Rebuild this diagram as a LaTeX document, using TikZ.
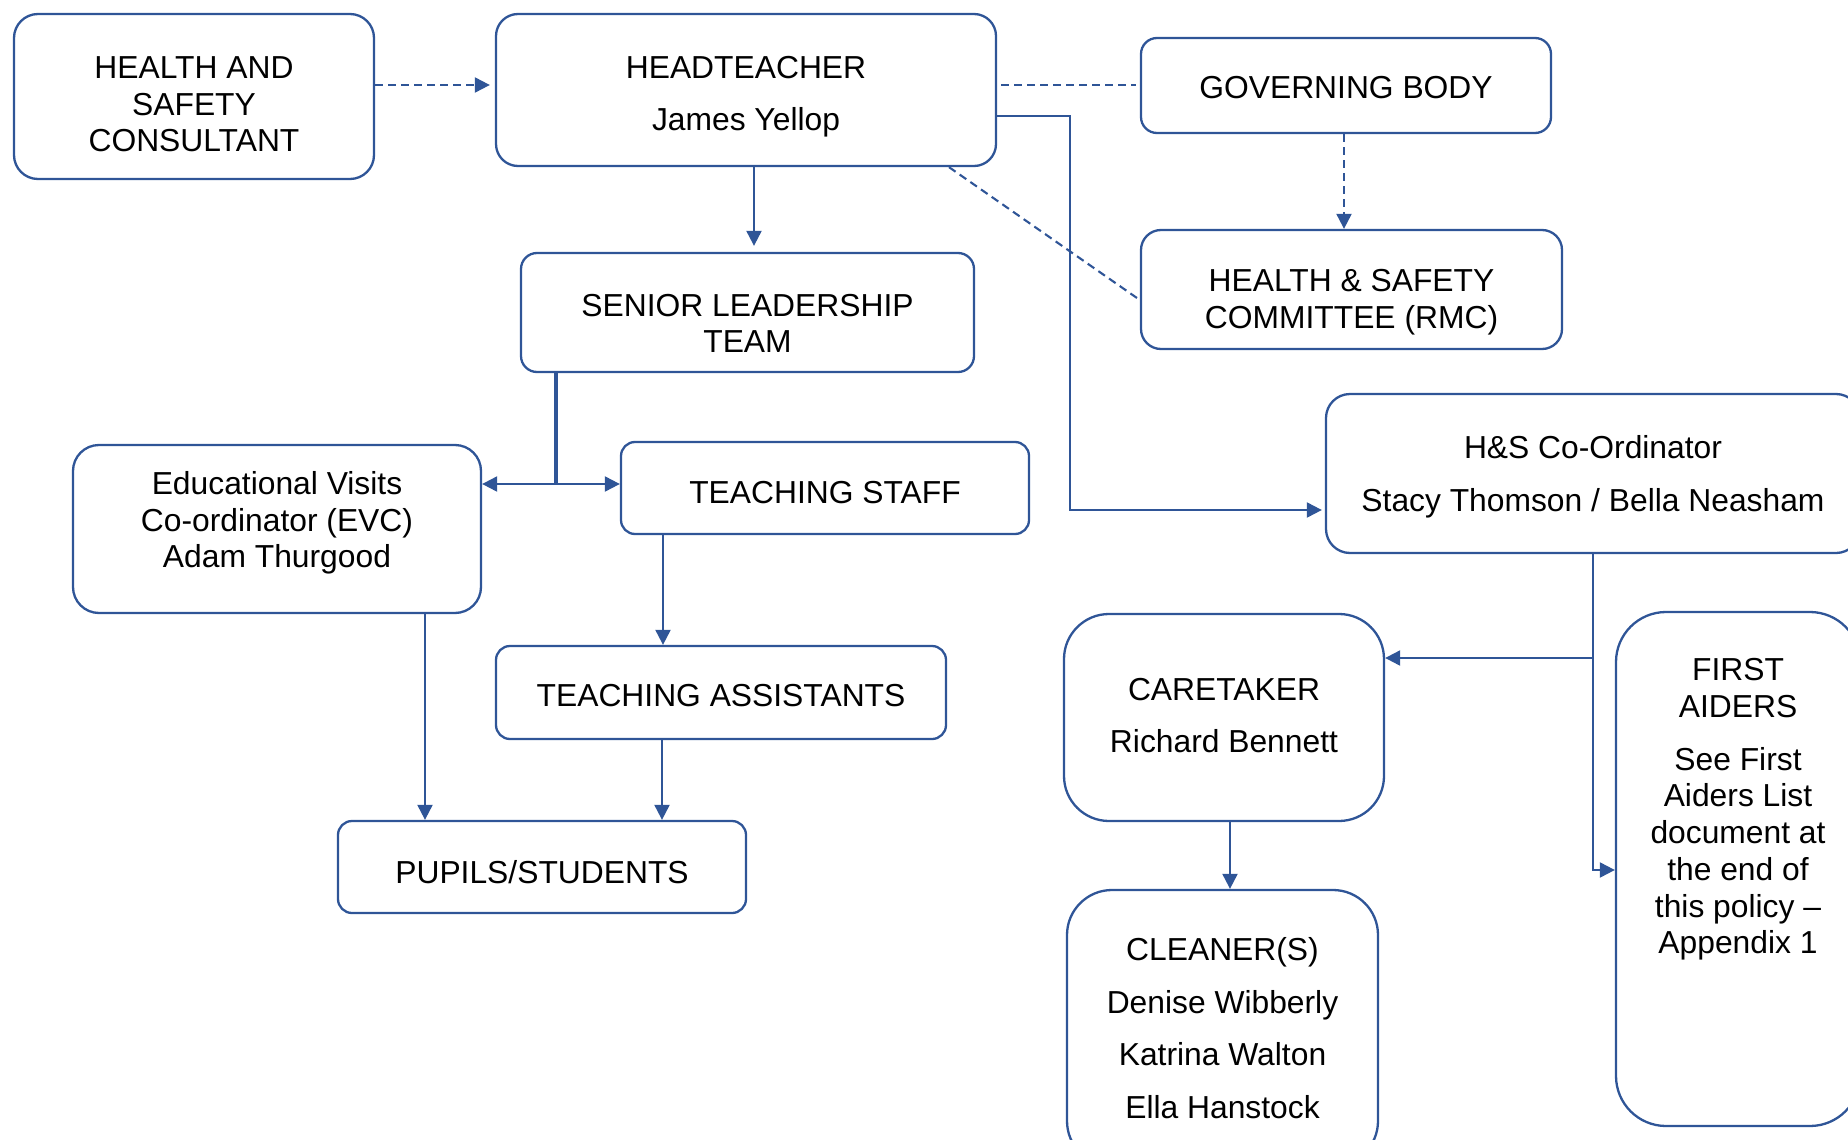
\documentclass[tikz,border=0pt]{standalone}
\usepackage{fontspec}
\setmainfont{Liberation Sans}
\usetikzlibrary{arrows.meta,calc}
\definecolor{lc}{RGB}{47,85,151}
\begin{document}
\begin{tikzpicture}[x=1pt,y=-1pt,
  box/.style={draw=lc, line width=2.3pt, rounded corners=#1, inner sep=0pt},
  box/.default=16pt,
  txt/.style={align=center, inner sep=0pt, font=\fontsize{31.8}{36.7}\selectfont, text=black},
  conn/.style={draw=lc, line width=2.1pt},
  arr/.style={conn, -{Triangle[length=15pt,width=15pt]}},
  dashconn/.style={conn, dash pattern=on 8pt off 5pt},
  dasharr/.style={dashconn, -{Triangle[length=15pt,width=15pt]}}]
\useasboundingbox (0,0) rectangle (1848,1140);
\clip (0,0) rectangle (1848,1140);

% boxes
\node[box=24pt, minimum width=360pt, minimum height=165pt] (hsc) at (194,96.5) {};
\node[box=22pt, minimum width=500pt, minimum height=152pt] (head) at (746,90) {};
\node[box=16pt, minimum width=410pt, minimum height=95pt] (gov) at (1346,85.5) {};
\node[box=20pt, minimum width=421pt, minimum height=119pt] (hscomm) at (1351.5,289.5) {};
\node[box=16pt, minimum width=453pt, minimum height=119pt] (slt) at (747.5,312.5) {};
\node[box=26pt, minimum width=408pt, minimum height=168pt] (evc) at (277,529) {};
\node[box=14pt, minimum width=408pt, minimum height=92pt] (ts) at (825,488) {};
\node[box=24pt, minimum width=534pt, minimum height=159pt] (hscoord) at (1593,473.5) {};
\node[box=14pt, minimum width=450pt, minimum height=93pt] (ta) at (721,692.5) {};
\node[box=14pt, minimum width=408pt, minimum height=92pt] (pupils) at (542,867) {};
\node[box=45pt, minimum width=320pt, minimum height=207pt] (caretaker) at (1224,717.5) {};
\node[box=45pt, minimum width=311pt, minimum height=276pt] (cleaner) at (1222.5,1028) {};
\node[box=50pt, minimum width=244pt, minimum height=514pt] (firstaid) at (1738,869) {};

% texts
\node[txt] (hsc-t) at ($(hsc.center)+(0,8)$) {HEALTH AND\\SAFETY\\CONSULTANT};
\node[txt] (head-t) at ($(head.center)+(0,7)$) {HEADTEACHER\\[15.3pt]James Yellop};
\node[txt] (gov-t) at ($(gov.center)+(0,2)$) {GOVERNING BODY};
\node[txt] (hscomm-t) at ($(hscomm.center)+(0,13)$) {HEALTH \& SAFETY\\COMMITTEE (RMC)};
\node[txt] (slt-t) at ($(slt.center)+(0,11)$) {SENIOR LEADERSHIP\\TEAM};
\node[txt] (evc-t) at ($(evc.center)+(0,-6)$) {Educational Visits\\Co-ordinator (EVC)\\Adam Thurgood};
\node[txt] (ts-t) at ($(ts.center)+(0,5)$) {TEACHING STAFF};
\node[txt] (hscoord-t) at ($(hscoord.center)+(0,3.5)$) {H\&S Co-Ordinator\\[16pt]Stacy Thomson / Bella Neasham};
\node[txt] (ta-t) at ($(ta.center)+(0,3.5)$) {TEACHING ASSISTANTS};
\node[txt] (pupils-t) at ($(pupils.center)+(0,5)$) {PUPILS/STUDENTS};
\node[txt] (caretaker-t) at ($(caretaker.center)+(0,-2)$) {CARETAKER\\[16pt]Richard Bennett};
\node[txt] (cleaner-t) at (cleaner.center) {CLEANER(S)\\[16pt]Denise Wibberly\\[16pt]Katrina Walton\\[16pt]Ella Hanstock};
\node[txt] (firstaid-t) at ($(firstaid.center)+(0,3.5)$) {FIRST\\AIDERS\\[16pt]See First\\Aiders List\\document at\\the end of\\this policy --\\Appendix 1\\[96pt]\mbox{}};

% helper coordinates
\coordinate (r1) at (0,85);
\coordinate (r2) at (0,116);
\coordinate (r3) at (0,510);
\coordinate (v1) at (1070,0);
\coordinate (d1) at (949,0);
\coordinate (d2) at (0,300);
\coordinate (cg) at (1344,0);
\coordinate (ch) at (754,0);
\coordinate (cs) at (556,0);
\coordinate (rb) at (0,484);
\coordinate (ct) at (663,0);
\coordinate (ce) at (425,0);
\coordinate (cta) at (662,0);
\coordinate (cc) at (1593,0);
\coordinate (rc) at (0,658);
\coordinate (rf) at (0,870);
\coordinate (ck) at (1230,0);

% connectors
\draw[dasharr, shorten >=5pt] (hsc.east |- r1) -- (head.west |- r1);
\draw[dashconn, shorten <=4pt, shorten >=4pt] (head.east |- r1) -- (gov.west |- r1);
\draw[arr, shorten >=3pt] (head.east |- r2) -- (v1 |- r2) -- (v1 |- r3) -- (hscoord.west |- r3);
\draw[dashconn] (head.south -| d1) -- (hscomm.west |- d2);
\draw[dasharr] (gov.south -| cg) -- (hscomm.north -| cg);
\draw[arr, shorten >=6pt] (head.south -| ch) -- (slt.north -| ch);
\draw[conn, line width=3.2pt] (slt.south -| cs) -- (cs |- rb);
\draw[arr] (cs |- rb) -- (evc.east |- rb);
\draw[arr] (cs |- rb) -- (ts.west |- rb);
\draw[arr] (ts.south -| ct) -- (ta.north -| ct);
\draw[arr] (evc.south -| ce) -- (pupils.north -| ce);
\draw[arr] (ta.south -| cta) -- (pupils.north -| cta);
\draw[arr] (hscoord.south -| cc) -- (cc |- rf) -- (firstaid.west |- rf);
\draw[arr] (cc |- rc) -- (caretaker.east |- rc);
\draw[arr] (caretaker.south -| ck) -- (cleaner.north -| ck);
\end{tikzpicture}
\end{document}
